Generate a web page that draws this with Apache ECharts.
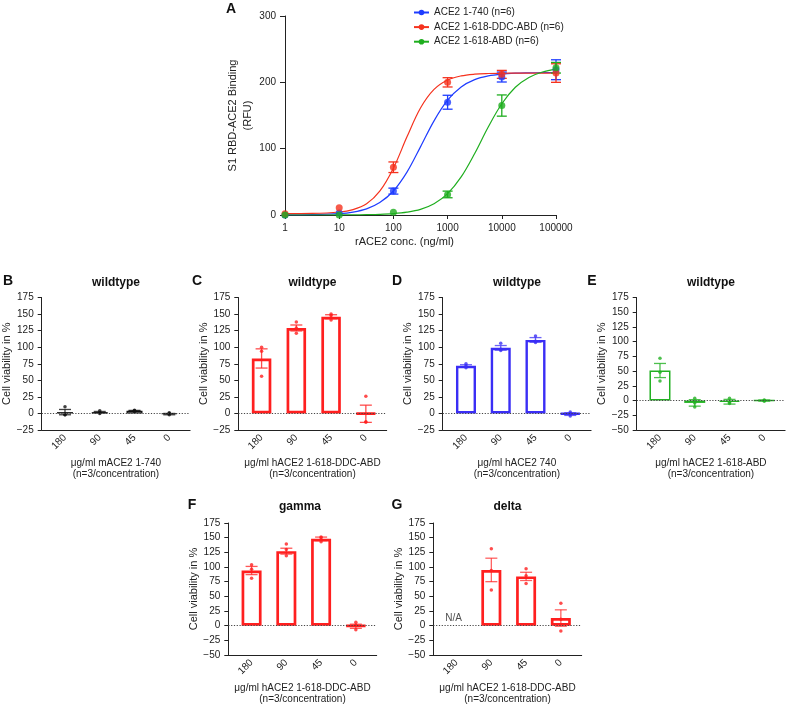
<!DOCTYPE html>
<html lang="en">
<head>
<meta charset="UTF-8">
<title>ACE2 binding and cell viability</title>
<script src="https://cdn.jsdelivr.net/npm/echarts@6/dist/echarts.min.js"></script>
<style>
  html, body { margin: 0; padding: 0; background: #fff; }
  #main { width: 786px; height: 706px; }
</style>
</head>
<body>
<div id="main"></div>
<script>
// ---- A: S1 RBD binding vs rACE2 concentration ----
var conc = [1, 10, 100, 1000, 10000, 100000];
var blueMean = [0, 3, 36, 170, 208, 219];
var blueSem = [0, 0, 4.5, 10.5, 7.5, 15];
var redMean = [2, 11, 72, 200, 212, 214];
var redSem = [0, 0, 8, 7, 6, 14];
var greenMean = [0, 0, 4, 31, 165, 222];
var greenSem = [0, 0, 0, 5, 16, 8];

// fitted curves
var curveConc = [1, 3.2, 10, 18, 32, 56, 100, 178, 316, 562, 1000, 1778, 3162, 5623, 10000, 17783, 31623, 56234, 100000];
var blueCurve = [0.1, 0.5, 2.1, 4.4, 9.2, 18.7, 36.2, 64.6, 102.7, 141.9, 173, 193, 204, 209.7, 212.5, 213.8, 214.3, 214.6, 214.8];
var redCurve = [2.1, 2.4, 4.5, 8.2, 16.9, 35.9, 70.6, 117.8, 161.3, 189.3, 203.5, 209.7, 212.3, 213.3, 213.7, 213.9, 214, 214, 214];
var greenCurve = [0, 0, 0.1, 0.2, 0.5, 1.0, 2.1, 4.3, 8.5, 16.9, 32.2, 57.4, 92.8, 132.7, 167.7, 192.6, 207.4, 215.6, 219.9];

var seriesNames = ['ACE2 1-740 (n=6)', 'ACE2 1-618-DDC-ABD (n=6)', 'ACE2 1-618-ABD (n=6)'];

// ---- B-G: cell viability ----
var doses = ['180', '90', '45', '0'];

var bMean = [2, 2, 4, -1];
var bSem = [4, 1, 0.6, 1];
var bPts = [[10, -2, -2], [4, 0, 1], [5, 4, 3], [1, 0, -2]];

var cMean = [83, 129, 146, -0.5];
var cSem = [14.5, 4.5, 3, 13];
var cPts = [[100, 56, 94], [138, 129, 121], [150, 148, 141], [26, -13, -13]];

var dMean = [72, 99, 111, -1];
var dSem = [1.5, 3.5, 3.5, 2];
var dPts = [[75, 69, 72], [106, 97, 95], [117, 109, 107], [2, 0, -4]];

var eMean = [51, -4, -2, 0];
var eSem = [12, 5.5, 4, 1];
var ePts = [[72, 48, 33], [4, -4, -11], [4, -5, -3], [1, 0, -1]];

var fMean = [94, 127, 148, -1];
var fSem = [7, 5, 3, 3.5];
var fPts = [[104, 96, 81], [139, 130, 119], [151, 150, 143], [6, 1, -7]];

var gMean = [null, 95, 84, 13];
var gSem = [null, 20, 7, 14];
var gPts = [[], [131, 61, 94], [97, 85, 72], [38, 11, -9]];

var FONT = 'Liberation Sans, Arial, Helvetica, sans-serif';
var INK = '#222';

function zip(xs, ys) {
    return xs.map(function (x, i) { return [x, ys[i]]; });
}

function errorBars(capW, color, width) {
    return function (params, api) {
        var x = api.value(0);
        var lo = api.coord([x, api.value(1)]);
        var hi = api.coord([x, api.value(2)]);
        var h = capW / 2;
        var st = { stroke: color, lineWidth: width };
        return {
            type: 'group',
            children: [
                { type: 'line', shape: { x1: lo[0], y1: lo[1], x2: hi[0], y2: hi[1] }, style: st },
                { type: 'line', shape: { x1: lo[0] - h, y1: lo[1], x2: lo[0] + h, y2: lo[1] }, style: st },
                { type: 'line', shape: { x1: hi[0] - h, y1: hi[1], x2: hi[0] + h, y2: hi[1] }, style: st }
            ]
        };
    };
}

var grids = [], xAxes = [], yAxes = [], series = [];

// panel A
grids.push({ left: 285, top: 16, width: 271, height: 199 });
xAxes.push({
    type: 'log', logBase: 10, gridIndex: 0, min: 1, max: 100000,
    axisLine: { show: true, onZero: false, lineStyle: { color: INK, width: 1 } },
    axisTick: { show: true, length: 4, lineStyle: { color: INK } },
    splitLine: { show: false },
    axisLabel: { fontSize: 10, color: INK, fontFamily: FONT, margin: 8,
        formatter: function (v) { return String(Math.round(v)); } },
    name: 'rACE2 conc. (ng/ml)', nameLocation: 'middle', nameGap: 21,
    nameTextStyle: { fontSize: 11, color: INK, fontFamily: FONT, padding: [0, 32, 0, 0] }
});
yAxes.push({
    type: 'value', gridIndex: 0, min: 0, max: 300, interval: 100,
    axisLine: { show: true, onZero: false, lineStyle: { color: INK, width: 1 } },
    axisTick: { show: true, length: 5, lineStyle: { color: INK } },
    splitLine: { show: false },
    axisLabel: { fontSize: 10, color: INK, fontFamily: FONT, margin: 9 },
    name: 'S1 RBD-ACE2 Binding\n(RFU)', nameLocation: 'middle', nameGap: 28,
    nameTextStyle: { fontSize: 11, lineHeight: 15, color: INK, fontFamily: FONT }
});

var aSets = [
    { name: seriesNames[0], color: '#1e3cff', mean: blueMean, sem: blueSem, curve: blueCurve },
    { name: seriesNames[1], color: '#f5321e', mean: redMean, sem: redSem, curve: redCurve },
    { name: seriesNames[2], color: '#1fae1f', mean: greenMean, sem: greenSem, curve: greenCurve }
];
aSets.forEach(function (s) {
    series.push({
        type: 'line', name: s.name, xAxisIndex: 0, yAxisIndex: 0,
        data: zip(curveConc, s.curve), smooth: 0.35,
        symbol: 'circle', symbolSize: 7, showSymbol: false,
        lineStyle: { color: s.color, width: 1.2 }, itemStyle: { color: s.color }, z: 2
    });
});
aSets.forEach(function (s) {
    var err = [];
    conc.forEach(function (c, i) {
        if (s.sem[i] > 0) err.push([c, s.mean[i] - s.sem[i], s.mean[i] + s.sem[i]]);
    });
    series.push({
        type: 'custom', name: s.name + ' sem', xAxisIndex: 0, yAxisIndex: 0,
        renderItem: errorBars(10, s.color, 1.3), encode: { x: 0, y: [1, 2] }, data: err, z: 3
    });
    series.push({
        type: 'scatter', name: s.name + ' pts', xAxisIndex: 0, yAxisIndex: 0,
        data: zip(conc, s.mean), symbol: 'circle', symbolSize: 7,
        itemStyle: { color: s.color }, z: 4
    });
});

// bar panels
var panels = [
    { mean: bMean, sem: bSem, pts: bPts, color: '#111111', errColor: 'rgba(17,17,17,0.8)', border: 1.2, barW: 16,
      left: 41.7, top: 297.5, height: 132.5, min: -25, name: 'μg/ml mACE2 1-740\n(n=3/concentration)' },
    { mean: cMean, sem: cSem, pts: cPts, color: '#ff1f1f', errColor: 'rgba(255,31,31,0.8)', border: 2.7, barW: 19.5,
      left: 238.3, top: 297.5, height: 132.5, min: -25, name: 'μg/ml hACE2 1-618-DDC-ABD\n(n=3/concentration)' },
    { mean: dMean, sem: dSem, pts: dPts, color: '#3a2ef5', errColor: 'rgba(58,46,245,0.75)', border: 2.4, barW: 20,
      left: 442.7, top: 297.5, height: 132.5, min: -25, name: 'μg/ml hACE2 740\n(n=3/concentration)' },
    { mean: eMean, sem: eSem, pts: ePts, color: '#22b022', errColor: 'rgba(34,176,34,0.8)', border: 1.5, barW: 21,
      left: 636.7, top: 297.5, height: 132.5, min: -50, name: 'μg/ml hACE2 1-618-ABD\n(n=3/concentration)' },
    { mean: fMean, sem: fSem, pts: fPts, color: '#ff1f1f', errColor: 'rgba(255,31,31,0.75)', border: 2.7, barW: 20,
      left: 228.3, top: 523, height: 132, min: -50, name: 'μg/ml hACE2 1-618-DDC-ABD\n(n=3/concentration)' },
    { mean: gMean, sem: gSem, pts: gPts, color: '#ff1f1f', errColor: 'rgba(255,31,31,0.7)', border: 2.7, barW: 20,
      left: 433.3, top: 523, height: 132, min: -50, name: 'μg/ml hACE2 1-618-DDC-ABD\n(n=3/concentration)', na: true }
];

panels.forEach(function (p, k) {
    var gi = k + 1;
    grids.push({ left: p.left, top: p.top, width: 148.4, height: p.height });
    xAxes.push({
        type: 'value', gridIndex: gi, min: 0.33, max: 4.6,
        axisLine: { show: true, onZero: false, lineStyle: { color: INK, width: 1 } },
        axisTick: { show: false },
        splitLine: { show: false },
        axisLabel: { customValues: [1, 2, 3, 4], rotate: 45, margin: 6, fontSize: 10, color: INK, fontFamily: FONT,
            formatter: function (v) { return doses[Math.round(v) - 1]; } },
        name: p.name, nameLocation: 'middle', nameGap: 28,
        nameTextStyle: { fontSize: 10, lineHeight: 11, color: INK, fontFamily: FONT }
    });
    yAxes.push({
        type: 'value', gridIndex: gi, min: p.min, max: 175, interval: 25,
        axisLine: { show: true, onZero: false, lineStyle: { color: INK, width: 1 } },
        axisTick: { show: true, length: 4, lineStyle: { color: INK } },
        splitLine: { show: false },
        axisLabel: { fontSize: 10, color: INK, fontFamily: FONT, margin: 8,
            formatter: function (v) { return String(v).replace('-', '\u2212'); } },
        name: 'Cell viability in %', nameLocation: 'middle', nameGap: 28,
        nameTextStyle: { fontSize: 11, color: INK, fontFamily: FONT }
    });

    var barData = [], errData = [], ptData = [];
    p.mean.forEach(function (m, i) {
        if (m == null) return;
        barData.push([i + 1, m]);
        errData.push([i + 1, m - p.sem[i], m + p.sem[i]]);
        p.pts[i].forEach(function (v) { ptData.push([i + 1, v]); });
    });

    series.push({
        type: 'bar', xAxisIndex: gi, yAxisIndex: gi, data: barData, barWidth: p.barW,
        itemStyle: { color: '#ffffff', borderColor: p.color, borderWidth: p.border },
        markLine: {
            silent: true, symbol: ['none', 'none'], label: { show: false },
            lineStyle: { type: [1.2, 1.6], color: '#444', width: 1 },
            data: [{ yAxis: 0 }]
        },
        z: 2
    });
    series.push({
        type: 'custom', xAxisIndex: gi, yAxisIndex: gi,
        renderItem: errorBars(12, p.errColor, 1.3), encode: { x: 0, y: [1, 2] }, data: errData, z: 3
    });
    series.push({
        type: 'scatter', xAxisIndex: gi, yAxisIndex: gi, data: ptData,
        symbol: 'circle', symbolSize: 3.5, itemStyle: { color: p.color }, z: 4
    });
    if (p.na) {
        series.push({
            type: 'scatter', xAxisIndex: gi, yAxisIndex: gi, data: [[1, 0]], symbolSize: 0,
            label: { show: true, position: 'top', distance: 2, offset: [-3, 0], formatter: 'N/A',
                fontSize: 10, color: INK, fontFamily: FONT }
        });
    }
});

grids.forEach(function (g) { g.containLabel = false; g.outerBoundsMode = 'none'; });

var labels = [
    ['A', 231, 9, 14, true], ['B', 8, 281, 14, true], ['C', 197, 281, 14, true],
    ['D', 397, 281, 14, true], ['E', 592, 281, 14, true], ['F', 192, 505, 14, true], ['G', 397, 505, 14, true],
    ['wildtype', 116, 283, 12, true], ['wildtype', 312.5, 283, 12, true], ['wildtype', 517, 283, 12, true],
    ['wildtype', 711, 283, 12, true], ['gamma', 300, 507, 12, true], ['delta', 507.5, 507, 12, true]
];

var chart = echarts.init(document.getElementById('main'));
chart.setOption({
    animation: false,
    backgroundColor: '#ffffff',
    textStyle: { fontFamily: FONT },
    legend: {
        data: seriesNames, orient: 'vertical', left: 413, top: 6.5, padding: 0,
        itemWidth: 15, itemHeight: 7, itemGap: 2.6,
        textStyle: { fontSize: 10, color: INK, fontFamily: FONT, lineHeight: 12 }
    },
    grid: grids,
    xAxis: xAxes,
    yAxis: yAxes,
    series: series,
    graphic: labels.map(function (t) {
        return {
            type: 'text', x: t[1], y: t[2], silent: true,
            style: { text: t[0], fontSize: t[3], fontWeight: t[4] ? 'bold' : 'normal', fill: '#111',
                fontFamily: FONT, align: 'center', verticalAlign: 'middle' }
        };
    })
});
</script>
</body>
</html>
